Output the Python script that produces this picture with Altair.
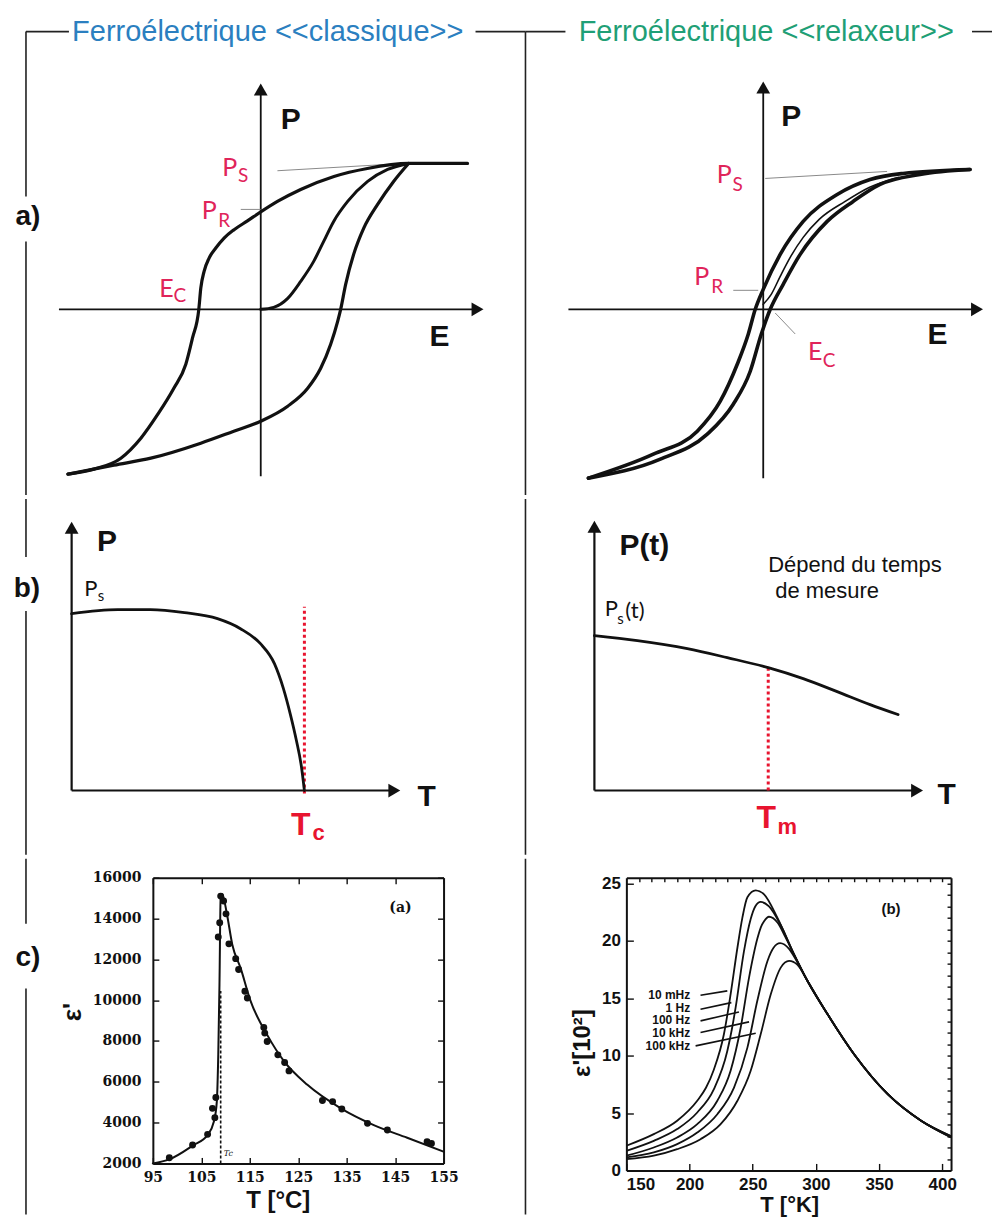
import altair as alt
import pandas as pd

# ============ DATA ============
# a) classic ferroelectric hysteresis (E, P in arbitrary units), each branch ordered by E
cl_up_E = [-1.93, -1.67, -1.40, -1.20, -1.03, -0.87, -0.75, -0.683, -0.62, -0.60, -0.567, -0.517, -0.45, -0.367, -0.267, -0.133, 0.00, 0.167, 0.40, 0.733, 1.067, 1.48, 2.07]
cl_up_P = [-1.65, -1.60, -1.49, -1.29, -1.05, -0.79, -0.55, -0.287, 0.00, 0.213, 0.38, 0.513, 0.613, 0.713, 0.797, 0.885, 0.975, 1.08, 1.20, 1.33, 1.41, 1.46, 1.46]
cl_lo_E = [-1.93, -1.47, -1.10, -0.60, -0.27, 0.00, 0.27, 0.47, 0.60, 0.70, 0.77, 0.80, 0.85, 0.93, 1.03, 1.17, 1.33, 1.48]
cl_lo_P = [-1.65, -1.56, -1.49, -1.34, -1.22, -1.12, -0.97, -0.79, -0.59, -0.35, -0.12, 0.00, 0.25, 0.55, 0.81, 1.05, 1.28, 1.46]
cl_vi_E = [0.00, 0.13, 0.27, 0.40, 0.53, 0.63, 0.73, 0.87, 1.07, 1.27, 1.48]
cl_vi_P = [0.00, 0.02, 0.11, 0.28, 0.48, 0.68, 0.88, 1.08, 1.28, 1.40, 1.46]

# a) relaxor hysteresis
rx_l_E = [-1.75, -1.10, -0.66, -0.43, -0.26, -0.15, -0.08, 0.00, 0.17, 0.40, 0.74, 1.07, 1.40, 2.07]
rx_l_P = [-1.69, -1.45, -1.22, -0.92, -0.55, -0.25, 0.00, 0.20, 0.55, 0.88, 1.15, 1.30, 1.36, 1.40]
rx_r_E = [-1.75, -1.03, -0.56, -0.30, -0.13, -0.02, 0.07, 0.20, 0.37, 0.64, 0.90, 1.17, 1.57, 2.07]
rx_r_P = [-1.69, -1.50, -1.25, -0.95, -0.62, -0.25, 0.00, 0.25, 0.55, 0.88, 1.08, 1.25, 1.35, 1.40]
rx_v_E = [0.00, 0.08, 0.17, 0.27, 0.40, 0.56, 0.82, 1.06, 1.35]
rx_v_P = [0.05, 0.15, 0.33, 0.52, 0.72, 0.90, 1.08, 1.22, 1.32]

# b) P(T) schematics
bc_T = [0.00, 0.46, 0.79, 1.13, 1.46, 1.69, 1.89, 2.03, 2.12, 2.19, 2.25, 2.30, 2.33]
bc_P = [1.77, 1.81, 1.81, 1.78, 1.72, 1.62, 1.47, 1.27, 1.02, 0.76, 0.50, 0.24, 0.00]
br_T = [0.00, 0.43, 0.93, 1.33, 1.74, 2.09, 2.43, 2.76, 3.04]
br_P = [1.55, 1.50, 1.42, 1.33, 1.23, 1.12, 0.99, 0.86, 0.76]
Tc_b = 2.33
Tm_b = 1.74

# c) classic: permittivity vs T (°C)
pts_T = [98.4, 103.2, 106.3, 107.3, 107.8, 108.0, 108.5, 108.8, 109.0, 109.6, 110.1, 110.7, 112.1, 112.7, 114.0, 114.5,
         117.9, 118.1, 118.6, 120.8, 122.2, 123.1, 130.0, 132.1, 134.0, 139.3, 143.4, 151.6, 152.5]
pts_eps = [2280, 2900, 3425, 4700, 4245, 5227, 13100, 13790, 15100, 14856, 14230, 12760, 12036, 11500, 10435, 10105,
           8665, 8386, 7978, 7320, 6947, 6535, 5080, 5030, 4667, 3965, 3637, 3066, 2982]
fit_T = [95, 98.4, 103.2, 106.3, 107.6, 108.2, 108.5, 108.75, 109.0, 109.3, 110.3, 111.4, 113.1, 115.2, 118.6, 122.1,
         126.9, 133.8, 140.6, 147.5, 155]
fit_eps = [2000, 2200, 2870, 3400, 4050, 5030, 7320, 10760, 15100, 15200, 14200, 12720, 11580, 9940, 8300, 7000,
           5850, 4700, 3880, 3260, 2580]
Tc_c = 109.0
cl_xticks = [95, 105, 115, 125, 135, 145, 155]
cl_yticks = [2000, 4000, 6000, 8000, 10000, 12000, 14000, 16000]

# c) relaxor: eps'(T) for 5 frequencies
freqs = ["10 mHz", "1 Hz", "100 Hz", "10 kHz", "100 kHz"]
f_T = {
    "10 mHz": [150, 171.7, 190.2, 206.1, 213, 219.3, 227.2, 232.5, 237.9, 241.8, 245.8, 252.4, 259.0, 269.6, 282.8, 293.4, 309.3, 330.4, 356.9, 383.3, 407],
    "1 Hz": [150, 171.7, 190.2, 206.1, 219.3, 229.9, 233.5, 236.5, 243.1, 248.4, 252.0, 256.3, 262.9, 272.0, 282.8, 293.4, 309.3, 330.4, 356.9, 383.3, 407],
    "100 Hz": [150, 171.7, 190.2, 206.1, 222.0, 232.5, 240.5, 247.1, 253.7, 256.5, 259.0, 262.9, 269.6, 276.0, 282.8, 293.4, 309.3, 330.4, 356.9, 383.3, 407],
    "10 kHz": [150, 171.7, 190.2, 206.1, 222.0, 235.2, 245.8, 253.7, 261.7, 266.5, 271.7, 278.8, 285.0, 293.4, 309.3, 330.4, 356.9, 383.3, 407],
    "100 kHz": [150, 171.7, 190.2, 208.7, 224.6, 237.9, 248.4, 256.3, 264.3, 272.2, 278.8, 285.5, 293.4, 309.3, 330.4, 356.9, 383.3, 407],
}
f_e = {
    "10 mHz": [2.15, 3.16, 4.33, 6.07, 7.2, 8.8, 11.86, 15.34, 19.4, 22.0, 23.8, 24.4, 24.05, 22.0, 18.8, 16.5, 13.6, 10.1, 6.64, 4.33, 2.87],
    "1 Hz": [1.71, 2.58, 3.6, 5.05, 7.08, 10.4, 12.3, 14.2, 19.1, 21.9, 23.0, 23.4, 23.0, 21.4, 18.8, 16.5, 13.6, 10.1, 6.64, 4.33, 2.90],
    "100 Hz": [1.28, 2.0, 2.87, 4.03, 6.07, 8.68, 12.45, 16.8, 20.2, 21.2, 21.7, 22.1, 21.6, 20.3, 18.8, 16.5, 13.6, 10.1, 6.64, 4.33, 2.93],
    "10 kHz": [1.13, 1.57, 2.29, 3.3, 4.9, 7.22, 10.7, 14.8, 18.25, 19.4, 19.8, 19.3, 18.2, 16.5, 13.6, 10.1, 6.64, 4.33, 2.97],
    "100 kHz": [0.98, 1.28, 1.85, 2.72, 4.03, 6.07, 8.68, 11.86, 15.34, 17.67, 18.25, 17.9, 16.5, 13.6, 10.1, 6.64, 4.33, 3.0],
}
lead_T1 = [208.7, 208.7, 208.7, 208.7, 204.8]
lead_e1 = [15.26, 14.04, 13.03, 12.01, 10.85]
lead_T2 = [229.9, 233.1, 239.1, 247.1, 252.4]
lead_e2 = [15.64, 14.62, 13.81, 12.94, 11.95]
lab_e = [15.26, 14.19, 13.08, 12.01, 10.85]
rx_xticks = [150, 200, 250, 300, 350, 400]
rx_yticks = [0, 5, 10, 15, 20, 25]
rx_xminor = list(range(160, 410, 10))
rx_yminor = list(range(1, 26))

TITLE_L = "Ferroélectrique <<classique>>"
TITLE_R = "Ferroélectrique <<relaxeur>>"

# ============ STYLE ============
INK = "#111111"
GREY = "#8a8a8a"
BLUE = "#2b7fc0"
GREEN = "#1f9f76"
RED_LBL = "#e0245a"
RED = "#e8142f"
SANS = "Liberation Sans"
CAL = "Lato"
ONE = pd.DataFrame({"k": [0]})


def mk_scales(xdom, ydom):
    sx = alt.Scale(domain=xdom, nice=False, zero=False)
    sy = alt.Scale(domain=ydom, nice=False, zero=False)
    return (lambda f: alt.X(f"{f}:Q", scale=sx, axis=None)), (lambda f: alt.Y(f"{f}:Q", scale=sy, axis=None))


def curve(xs, ys, X, Y, w=3.0, color=INK, interp="monotone"):
    df = pd.DataFrame({"x": xs, "y": ys, "i": list(range(len(xs)))})
    return alt.Chart(df).mark_line(color=color, strokeWidth=w, interpolate=interp,
                                   strokeCap="round").encode(x=X("x"), y=Y("y"), order="i:Q")


def segs(x1, y1, x2, y2, X, Y, w=1.8, color=INK, dash=None):
    df = pd.DataFrame({"x": x1, "y": y1, "x2": x2, "y2": y2})
    kw = {"strokeDash": dash} if dash else {}
    return alt.Chart(df).mark_rule(color=color, strokeWidth=w, **kw).encode(
        x=X("x"), y=Y("y"), x2=alt.X2("x2"), y2=alt.Y2("y2"))


def texts(xs, ys, ts, X, Y, **style):
    df = pd.DataFrame({"x": xs, "y": ys, "t": ts})
    return alt.Chart(df).mark_text(**style).encode(x=X("x"), y=Y("y"), text="t:N")


def arrows(xs, ys, shapes, X, Y):
    df = pd.DataFrame({"x": xs, "y": ys, "s": shapes})
    return alt.Chart(df).mark_point(filled=True, color=INK, size=190, opacity=1, strokeWidth=0).encode(
        x=X("x"), y=Y("y"), shape=alt.Shape("s:N", scale=None))


def px_rule(x1, y1, x2, y2, w=1.6):
    return alt.Chart(ONE).mark_rule(color="#222222", strokeWidth=w).encode(
        x=alt.value(x1), y=alt.value(y1), x2=alt.value(x2), y2=alt.value(y2))


def px_box(x1, y1, x2, y2):
    # invisible box fixing the extent of a cell for the layout
    return alt.Chart(ONE).mark_rect(opacity=0, strokeWidth=0).encode(
        x=alt.value(x1), y=alt.value(y1), x2=alt.value(x2), y2=alt.value(y2))


def px_text(x, y, t, **style):
    return alt.Chart(ONE).mark_text(text=t, **style).encode(x=alt.value(x), y=alt.value(y))


lbl_big = dict(font=SANS, fontSize=30, fontWeight="bold", color=INK)
red_main = dict(font=CAL, fontSize=25, color=RED_LBL)
red_sub = dict(font=CAL, fontSize=19, color=RED_LBL)

WL, WR = 517, 469
HA, HB = 487, 357

# ---------- a) left ----------
X, Y = mk_scales([-2.52, 2.65], [-1.87, 3.0])
aL = alt.layer(
    px_box(0, 0, WL, HA),
    px_rule(17, 22, 17, 187), px_rule(17, 232, 17, HA - 1), px_rule(17, 22, 60, 22), px_rule(467, 22, WL, 22),
    px_text(259, 22, TITLE_L, font=SANS, fontSize=29, color=BLUE),
    px_text(19, 208, "a)", font=SANS, fontSize=28, fontWeight="bold", color=INK),
    segs([-2.02, 0.0], [0.0, -1.67], [2.17, 0.0], [0.0, 2.20], X, Y),
    arrows([2.17, 0.0], [0.0, 2.20], ["triangle-right", "triangle-up"], X, Y),
    segs([0.167, -0.20], [1.387, 1.0], [1.483, 0.0], [1.463, 1.0], X, Y, w=1, color=GREY),
    curve(cl_up_E, cl_up_P, X, Y, w=3.2),
    curve(cl_lo_E, cl_lo_P, X, Y, w=3.2),
    curve(cl_vi_E, cl_vi_P, X, Y, w=3.0),
    texts([0.30, 1.79], [1.895, -0.28], ["P", "E"], X, Y, **lbl_big),
    texts([-0.31, -0.515, -0.945], [1.41, 0.98, 0.205], ["P", "P", "E"], X, Y, **red_main),
    texts([-0.175, -0.365, -0.81], [1.335, 0.88, 0.13], ["S", "R", "C"], X, Y, **red_sub),
).properties(width=WL, height=HA)

# ---------- a) right ----------
X, Y = mk_scales([-2.38, 2.31], [-1.87, 3.0])
aR = alt.layer(
    px_box(0, 0, WR, HA),
    px_rule(0, 22, 0, HA - 1), px_rule(0, 22, 40, 22), px_rule(447, 22, WR - 2, 22),
    px_text(241, 22, TITLE_R, font=SANS, fontSize=29, color=GREEN),
    segs([-1.95, 0.0], [0.0, -1.69], [2.14, 0.0], [0.0, 2.22], X, Y),
    arrows([2.14, 0.0], [0.0, 2.22], ["triangle-right", "triangle-up"], X, Y),
    segs([0.02, -0.30, 0.12], [1.31, 0.19, -0.037], [1.24, -0.05, 0.32], [1.38, 0.19, -0.247], X, Y, w=1, color=GREY),
    curve(rx_l_E, rx_l_P, X, Y, w=3.6),
    curve(rx_r_E, rx_r_P, X, Y, w=3.6),
    curve(rx_v_E, rx_v_P, X, Y, w=1.6),
    texts([0.28, 1.745], [1.92, -0.26], ["P", "E"], X, Y, **lbl_big),
    texts([-0.39, -0.615, 0.52], [1.34, 0.32, -0.43], ["P", "P", "E"], X, Y, **red_main),
    texts([-0.255, -0.46, 0.66], [1.245, 0.22, -0.52], ["S", "R", "C"], X, Y, **red_sub),
).properties(width=WR, height=HA)

# ---------- b) left ----------
X, Y = mk_scales([-0.627, 4.543], [-0.653, 2.917])
bL = alt.layer(
    px_box(0, 0, WL, HB),
    px_rule(17, 0, 17, 58), px_rule(17, 112, 17, HB - 1),
    px_text(18, 90, "b)", font=SANS, fontSize=28, fontWeight="bold", color=INK),
    segs([0.0, 0.0], [0.0, 0.0], [3.23, 0.0], [0.0, 2.63], X, Y, w=2.2),
    arrows([3.23, 0.0], [0.0, 2.63], ["triangle-right", "triangle-up"], X, Y),
    segs([Tc_b], [-0.03], [Tc_b], [1.84], X, Y, w=3, color=RED, dash=[3, 3]),
    curve(bc_T, bc_P, X, Y, w=2.8),
    texts([0.353, 3.553], [2.487, -0.063], ["P", "T"], X, Y, **lbl_big),
    texts([0.193], [2.017], ["P"], X, Y, font=CAL, fontSize=22, color=INK),
    texts([0.293], [1.947], ["s"], X, Y, font=CAL, fontSize=15, color=INK),
    texts([2.293], [-0.343], ["T"], X, Y, font=SANS, fontSize=32, fontWeight="bold", color=RED),
    texts([2.473], [-0.423], ["c"], X, Y, font=SANS, fontSize=22, fontWeight="bold", color=RED),
).properties(width=WL, height=HB)

# ---------- b) right ----------
X, Y = mk_scales([-0.69, 4.0], [-0.653, 2.917])
bR = alt.layer(
    px_box(0, 0, WR, HB),
    px_rule(0, 0, 0, HB - 1),
    segs([0.0, 0.0], [0.0, 0.0], [3.23, 0.0], [0.0, 2.64], X, Y, w=2.2),
    arrows([3.23, 0.0], [0.0, 2.64], ["triangle-right", "triangle-up"], X, Y),
    segs([Tm_b], [0.0], [Tm_b], [1.234], X, Y, w=3, color=RED, dash=[3, 3]),
    curve(br_T, br_P, X, Y, w=2.8),
    texts([0.5, 3.527], [2.447, -0.048], ["P(t)", "T"], X, Y, **lbl_big),
    texts([1.74, 1.81], [2.257, 1.997], ["Dépend du temps", "de mesure"], X, Y,
          font=SANS, fontSize=22, color=INK, align="left"),
    texts([0.17], [1.817], ["P"], X, Y, font=CAL, fontSize=22, color=INK),
    texts([0.26], [1.717], ["s"], X, Y, font=CAL, fontSize=15, color=INK),
    texts([0.31], [1.797], ["(t)"], X, Y, font=CAL, fontSize=22, color=INK, align="left"),
    texts([1.72], [-0.273], ["T"], X, Y, font=SANS, fontSize=32, fontWeight="bold", color=RED),
    texts([1.93], [-0.363], ["m"], X, Y, font=SANS, fontSize=22, fontWeight="bold", color=RED),
).properties(width=WR, height=HB)

# ---------- c) left : classic permittivity ----------
neg6 = {"expr": "-6"}
neg4 = {"expr": "-4"}
sxL = alt.Scale(domain=[95, 155], nice=False, zero=False)
syL = alt.Scale(domain=[2000, 16000], nice=False, zero=False)
common_ax = dict(domainColor=INK, domainWidth=2, tickColor=INK, tickWidth=1.4, grid=False, labelOverlap=False)
axLb = alt.Axis(orient="bottom", values=cl_xticks, format="d", tickSize=neg6, labelPadding=13, labelFlush=False,
                labelFont="DejaVu Serif", labelFontWeight="bold", labelFontSize=14, labelColor=INK,
                title="T [°C]", titleFont=SANS, titleFontSize=24, titleFontWeight="bold", titleColor=INK,
                titleX=125, titleY=37, titleBaseline="middle", titleAlign="center", **common_ax)
axLl = alt.Axis(orient="left", values=cl_yticks, format="d", tickSize=neg6, labelPadding=18,
                labelFont="DejaVu Serif", labelFontWeight="bold", labelFontSize=14, labelColor=INK,
                title="ε'", titleFont=SANS, titleFontSize=26, titleFontWeight="bold", titleColor=INK,
                titleX=-80, titleY=134, titleBaseline="middle", titleAlign="center", **common_ax)
axLt = alt.Axis(orient="top", values=cl_xticks, tickSize=neg6, labels=False, title=None, **common_ax)
axLr = alt.Axis(orient="right", values=cl_yticks, tickSize=neg6, labels=False, title=None, **common_ax)


def XL(f):
    return alt.X(f"{f}:Q", scale=sxL, axis=axLb)


def YL(f):
    return alt.Y(f"{f}:Q", scale=syL, axis=axLl)


df_pts = pd.DataFrame({"x": pts_T, "y": pts_eps})
cL_inner = alt.layer(
    curve(fit_T, fit_eps, XL, YL, w=2.0),
    alt.Chart(df_pts).mark_point(filled=True, color=INK, size=48, opacity=1).encode(x=XL("x"), y=YL("y")),
    segs([Tc_c], [2000], [Tc_c], [10450], XL, YL, w=1.6, dash=[3, 2]),
    texts([146.1], [14526], ["(a)"], XL, YL, font="DejaVu Serif", fontSize=14, fontWeight="bold", color=INK),
    texts([110.6], [2450], ["Tc"], XL, YL, font="DejaVu Serif", fontSize=8, fontStyle="italic", color=INK),
)
cL_ghost = alt.Chart(df_pts).mark_point(opacity=0).encode(
    x=alt.X("x:Q", scale=sxL, axis=axLt), y=alt.Y("y:Q", scale=syL, axis=axLr))
cL = alt.layer(cL_inner, cL_ghost).resolve_axis(x="independent", y="independent").properties(width=291, height=286)

# ---------- c) right : relaxor permittivity ----------
sxR = alt.Scale(domain=[150, 407], nice=False, zero=False)
syR = alt.Scale(domain=[0, 25.5], nice=False, zero=False)
axRb = alt.Axis(orient="bottom", values=rx_xticks, format="d", tickSize={"expr": "-7"}, labelPadding=13,
                labelFlush=True, labelFont=SANS, labelFontWeight="bold", labelFontSize=17, labelColor=INK,
                title="T [°K]", titleFont=SANS, titleFontSize=22, titleFontWeight="bold", titleColor=INK,
                titleX=163, titleY=34, titleBaseline="middle", titleAlign="center", **common_ax)
axRl = alt.Axis(orient="left", values=rx_yticks, format="d", tickSize={"expr": "-7"}, labelPadding=13,
                labelFlush=False, labelFont=SANS, labelFontWeight="bold", labelFontSize=17, labelColor=INK,
                title="ε'[10²]", titleFont=SANS, titleFontSize=24, titleFontWeight="bold", titleColor=INK,
                titleX=-44, titleY=165, titleBaseline="middle", titleAlign="center", **common_ax)
axRt = alt.Axis(orient="top", values=rx_xminor, tickSize=neg4, labels=False, title=None, **common_ax)
axRr = alt.Axis(orient="right", values=rx_yminor, tickSize=neg4, labels=False, title=None, **common_ax)


def XR(f):
    return alt.X(f"{f}:Q", scale=sxR, axis=axRb)


def YR(f):
    return alt.Y(f"{f}:Q", scale=syR, axis=axRl)


rows = []
for name in freqs:
    for k, (t, e) in enumerate(zip(f_T[name], f_e[name])):
        rows.append({"f": name, "x": t, "y": e, "i": k})
df_rx = pd.DataFrame(rows)
cR_inner = alt.layer(
    alt.Chart(df_rx).mark_line(color=INK, strokeWidth=1.8, interpolate="monotone").encode(
        x=XR("x"), y=YR("y"), detail="f:N", order="i:Q"),
    segs(lead_T1, lead_e1, lead_T2, lead_e2, XR, YR, w=1.6),
    texts([200.5] * 5, lab_e, freqs, XR, YR, font=SANS, fontSize=12, fontWeight="bold", color=INK, align="right"),
    texts([359.5], [22.8], ["(b)"], XR, YR, font=SANS, fontSize=15, fontWeight="bold", color=INK),
)
cR_ghost = alt.Chart(df_rx).mark_point(opacity=0).encode(
    x=alt.X("x:Q", scale=sxR, axis=axRt), y=alt.Y("y:Q", scale=syR, axis=axRr))
cR = alt.layer(cR_inner, cR_ghost).resolve_axis(x="independent", y="independent").properties(width=325, height=293)

# ---------- row c decorations (they also fix the row extent) ----------
decL = alt.layer(
    px_box(0, -20, 144, 338),
    px_rule(17, -19, 17, 46), px_rule(17, 111, 17, 337),
    px_text(19, 80, "c)", font=SANS, fontSize=28, fontWeight="bold", color=INK),
).properties(width=144, height=338)
decM = alt.layer(px_box(0, -20, 183, 338), px_rule(82, -19, 82, 337)).properties(width=183, height=338)

rowA = alt.hconcat(aL, aR, spacing=0, bounds="flush")
rowB = alt.hconcat(bL, bR, spacing=0, bounds="flush")
rowC = alt.hconcat(decL, cL, decM, cR, spacing=0, bounds="flush")

chart = alt.vconcat(rowA, rowB, rowC, spacing=0).properties(
    padding=0, background="white"
).configure_view(stroke="transparent")

chart.save("out.html", embed_options={"renderer": "svg", "actions": False})
